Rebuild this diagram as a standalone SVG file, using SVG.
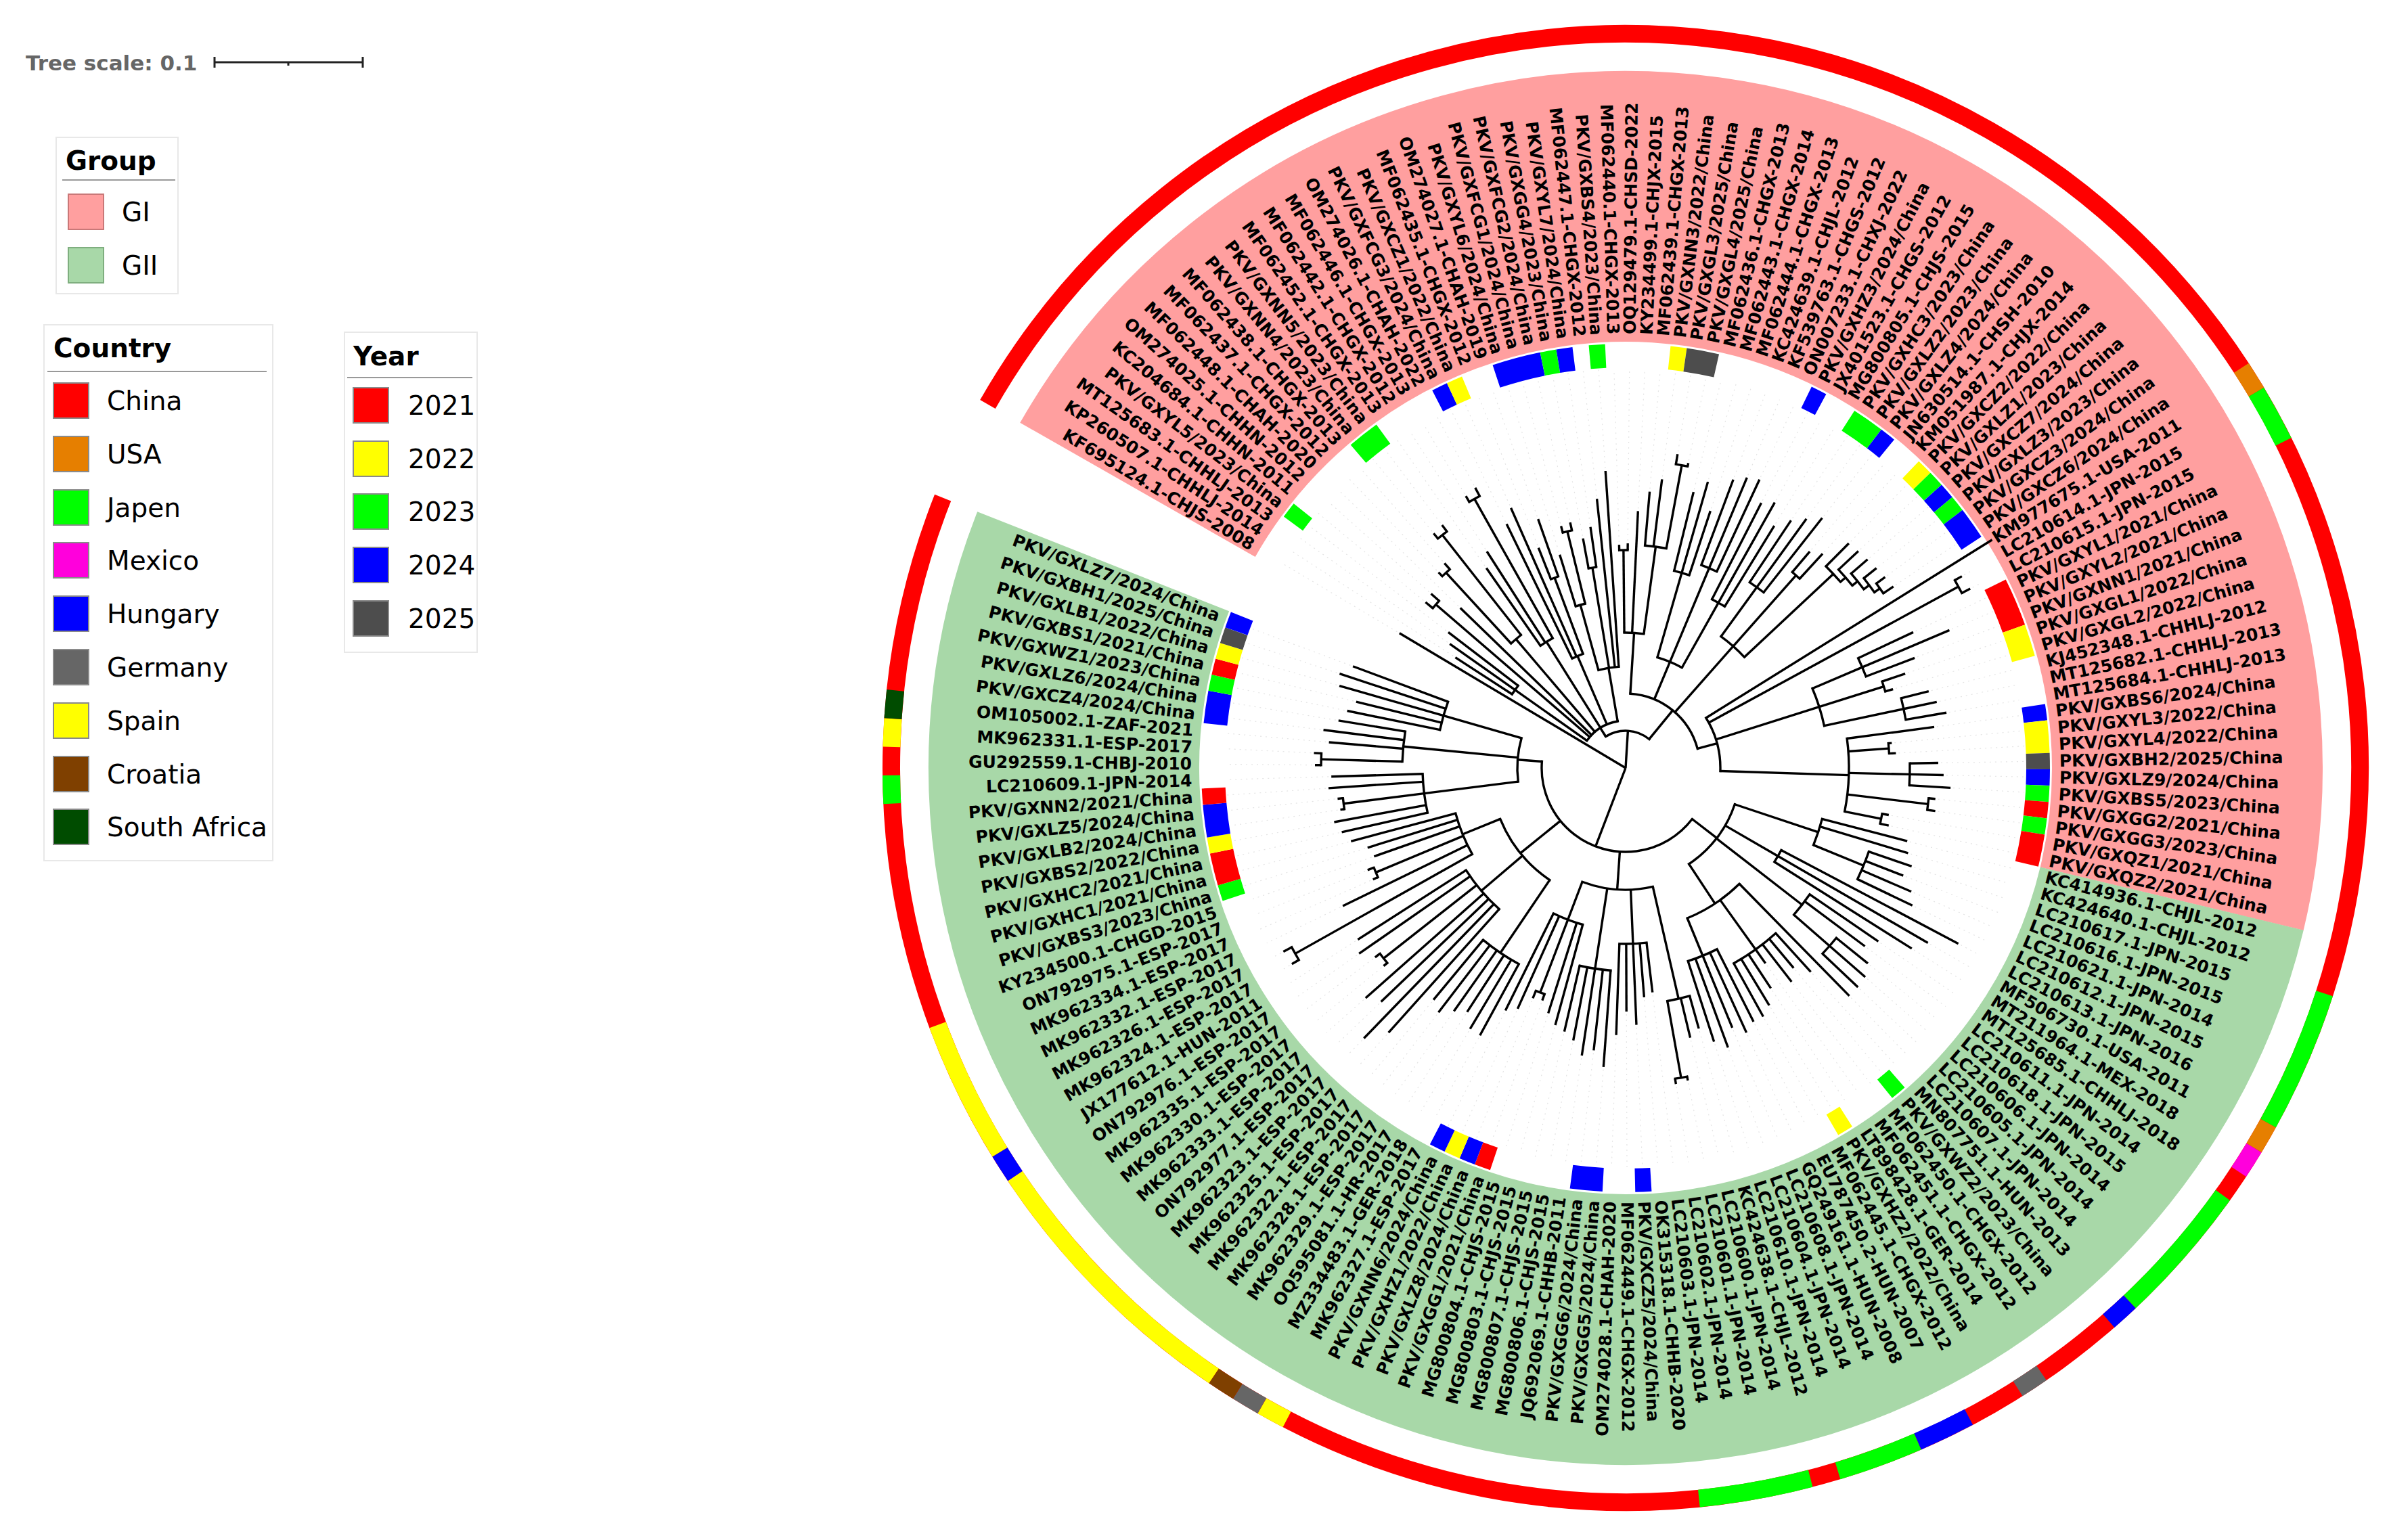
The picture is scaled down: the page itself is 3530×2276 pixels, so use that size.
<svg xmlns="http://www.w3.org/2000/svg" width="3530" height="2276" viewBox="0 0 3530 2276">
<style>
#labels text{font-family:"DejaVu Sans",Verdana,sans-serif;font-weight:bold;font-size:25px;fill:#000;dominant-baseline:central}
#labels .f{text-anchor:end}
#connectors path{fill:none;stroke:#000;stroke-width:3.4}
#connectors circle{fill:none;stroke:#000;stroke-width:3.4;stroke-linecap:square}
#guides path{fill:none;stroke:#e4e4e4;stroke-width:1.2;stroke-dasharray:2 6}
.cr{fill:none;stroke-width:26}
.yr{fill:none;stroke-width:35}
.lt{font-family:"DejaVu Sans",Verdana,sans-serif;font-size:39px;fill:#000}
.lh{font-family:"DejaVu Sans",Verdana,sans-serif;font-size:39px;font-weight:bold;fill:#000}
.box{fill:#fff;stroke:#e8e8e8;stroke-width:2}
.sw{stroke:#8a8a8a;stroke-width:2}
</style>
<rect width="3530" height="2276" fill="#fff"/>
<g id="legend">
<text x="38" y="104" font-family="DejaVu Sans,Verdana,sans-serif" font-weight="bold" font-size="31" fill="#666">Tree scale: 0.1</text>
<path d="M317 92H536M317 84V100M536 84V100M426 92V97" stroke="#222" stroke-width="3" fill="none"/>
<g id="legend-group">
<rect class="box" x="83" y="203" width="180" height="231"/>
<text class="lh" x="97" y="251">Group</text>
<line x1="92" y1="266" x2="259" y2="266" stroke="#999" stroke-width="2"/>
<rect x="101" y="287" width="52" height="52" fill="#FF9F9F" stroke="#c97878" stroke-width="2"/>
<text class="lt" x="180" y="327">GI</text>
<rect x="101" y="366" width="52" height="52" fill="#A8D8A8" stroke="#7fae7f" stroke-width="2"/>
<text class="lt" x="180" y="406">GII</text>
</g>
<g id="legend-country">
<rect class="box" x="65" y="480" width="338" height="792"/>
<text class="lh" x="79" y="528">Country</text>
<line x1="70" y1="549" x2="394" y2="549" stroke="#999" stroke-width="2"/>
<rect class="sw" x="79" y="566" width="52" height="52" fill="#FF0000"/><text class="lt" x="158" y="606">China</text>
<rect class="sw" x="79" y="645" width="52" height="52" fill="#E67F00"/><text class="lt" x="158" y="685">USA</text>
<rect class="sw" x="79" y="724" width="52" height="52" fill="#00FF00"/><text class="lt" x="158" y="764">Japen</text>
<rect class="sw" x="79" y="802" width="52" height="52" fill="#FF00DC"/><text class="lt" x="158" y="842">Mexico</text>
<rect class="sw" x="79" y="881" width="52" height="52" fill="#0000FF"/><text class="lt" x="158" y="921">Hungary</text>
<rect class="sw" x="79" y="960" width="52" height="52" fill="#666666"/><text class="lt" x="158" y="1000">Germany</text>
<rect class="sw" x="79" y="1039" width="52" height="52" fill="#FFFF00"/><text class="lt" x="158" y="1079">Spain</text>
<rect class="sw" x="79" y="1118" width="52" height="52" fill="#7F4000"/><text class="lt" x="158" y="1158">Croatia</text>
<rect class="sw" x="79" y="1196" width="52" height="52" fill="#004C00"/><text class="lt" x="158" y="1236">South Africa</text>
</g>
<g id="legend-year">
<rect class="box" x="509" y="491" width="196" height="473"/>
<text class="lh" x="522" y="540">Year</text>
<line x1="513" y1="558" x2="698" y2="558" stroke="#999" stroke-width="2"/>
<rect class="sw" x="522" y="573" width="52" height="52" fill="#FF0000"/><text class="lt" x="603" y="613">2021</text>
<rect class="sw" x="522" y="652" width="52" height="52" fill="#FFFF00"/><text class="lt" x="603" y="692">2022</text>
<rect class="sw" x="522" y="730" width="52" height="52" fill="#00FF00"/><text class="lt" x="603" y="770">2023</text>
<rect class="sw" x="522" y="809" width="52" height="52" fill="#0000FF"/><text class="lt" x="603" y="849">2024</text>
<rect class="sw" x="522" y="888" width="52" height="52" fill="#4D4D4D"/><text class="lt" x="603" y="928">2025</text>
</g>
</g>
<g id="tree" transform="translate(2402 1135) rotate(210.8)">
<g id="group-ranges">
<circle r="830" fill="none" stroke="#FF9F9F" stroke-width="400" stroke-dasharray="2372.3 9999" transform="rotate(-1.1065)"/>
<circle r="830" fill="none" stroke="#A8D8A8" stroke-width="400" stroke-dasharray="2724.9 9999" transform="rotate(162.6555)"/>
</g>
<g id="country-ring">
<circle r="1085" class="cr" stroke="#FF0000" stroke-dasharray="6663.2 9999" transform="rotate(-1.1065)"/>
<circle r="1085" class="cr" stroke="#E67F00" stroke-dasharray="41.91 9999" transform="rotate(116.1825)"/>
<circle r="1085" class="cr" stroke="#00FF00" stroke-dasharray="83.81 9999" transform="rotate(118.3955)"/>
<circle r="1085" class="cr" stroke="#00FF00" stroke-dasharray="209.54 9999" transform="rotate(167.0815)"/>
<circle r="1085" class="cr" stroke="#E67F00" stroke-dasharray="41.91 9999" transform="rotate(178.1465)"/>
<circle r="1085" class="cr" stroke="#FF00DC" stroke-dasharray="41.91 9999" transform="rotate(180.3595)"/>
<circle r="1085" class="cr" stroke="#00FF00" stroke-dasharray="209.54 9999" transform="rotate(184.7855)"/>
<circle r="1085" class="cr" stroke="#0000FF" stroke-dasharray="41.91 9999" transform="rotate(195.8505)"/>
<circle r="1085" class="cr" stroke="#666666" stroke-dasharray="41.91 9999" transform="rotate(204.7025)"/>
<circle r="1085" class="cr" stroke="#0000FF" stroke-dasharray="83.81 9999" transform="rotate(211.3415)"/>
<circle r="1085" class="cr" stroke="#00FF00" stroke-dasharray="125.72 9999" transform="rotate(215.7675)"/>
<circle r="1085" class="cr" stroke="#00FF00" stroke-dasharray="167.63 9999" transform="rotate(224.6195)"/>
<circle r="1085" class="cr" stroke="#FFFF00" stroke-dasharray="41.91 9999" transform="rotate(266.6665)"/>
<circle r="1085" class="cr" stroke="#666666" stroke-dasharray="41.91 9999" transform="rotate(268.8795)"/>
<circle r="1085" class="cr" stroke="#7F4000" stroke-dasharray="41.91 9999" transform="rotate(271.0925)"/>
<circle r="1085" class="cr" stroke="#FFFF00" stroke-dasharray="419.07 9999" transform="rotate(273.3055)"/>
<circle r="1085" class="cr" stroke="#0000FF" stroke-dasharray="41.91 9999" transform="rotate(295.4355)"/>
<circle r="1085" class="cr" stroke="#FFFF00" stroke-dasharray="209.54 9999" transform="rotate(297.6485)"/>
<circle r="1085" class="cr" stroke="#00FF00" stroke-dasharray="41.91 9999" transform="rotate(326.4175)"/>
<circle r="1085" class="cr" stroke="#FFFF00" stroke-dasharray="41.91 9999" transform="rotate(330.8435)"/>
<circle r="1085" class="cr" stroke="#004C00" stroke-dasharray="41.91 9999" transform="rotate(333.0565)"/>
</g>
<g id="guides">
<path d="M393 0H590"/>
<path d="M304 0H590" transform="rotate(2.213)"/>
<path d="M322 0H590" transform="rotate(4.426)"/>
<path d="M334 0H590" transform="rotate(6.639)"/>
<path d="M388 0H590" transform="rotate(8.852)"/>
<path d="M390 0H590" transform="rotate(11.065)"/>
<path d="M344 0H590" transform="rotate(13.278)"/>
<path d="M404 0H590" transform="rotate(15.491)"/>
<path d="M408 0H590" transform="rotate(17.704)"/>
<path d="M452 0H590" transform="rotate(19.917)"/>
<path d="M454 0H590" transform="rotate(22.13)"/>
<path d="M364 0H590" transform="rotate(24.343)"/>
<path d="M384 0H590" transform="rotate(26.556)"/>
<path d="M470 0H590" transform="rotate(28.769)"/>
<path d="M474 0H590" transform="rotate(30.982)"/>
<path d="M405 0H590" transform="rotate(33.195)"/>
<path d="M424 0H590" transform="rotate(35.408)"/>
<path d="M354 0H590" transform="rotate(37.621)"/>
<path d="M394 0H590" transform="rotate(39.834)"/>
<path d="M334 0H590" transform="rotate(42.047)"/>
<path d="M374 0H590" transform="rotate(44.26)"/>
<path d="M376 0H590" transform="rotate(46.473)"/>
<path d="M349 0H590" transform="rotate(48.686)"/>
<path d="M364 0H590" transform="rotate(50.899)"/>
<path d="M404 0H590" transform="rotate(53.112)"/>
<path d="M444 0H590" transform="rotate(55.325)"/>
<path d="M334 0H590" transform="rotate(57.538)"/>
<path d="M336 0H590" transform="rotate(59.751)"/>
<path d="M384 0H590" transform="rotate(61.964)"/>
<path d="M414 0H590" transform="rotate(64.177)"/>
<path d="M434 0H590" transform="rotate(66.39)"/>
<path d="M474 0H590" transform="rotate(68.603)"/>
<path d="M464 0H590" transform="rotate(70.816)"/>
<path d="M424 0H590" transform="rotate(73.029)"/>
<path d="M444 0H590" transform="rotate(75.242)"/>
<path d="M404 0H590" transform="rotate(77.455)"/>
<path d="M459 0H590" transform="rotate(79.668)"/>
<path d="M469 0H590" transform="rotate(81.881)"/>
<path d="M474 0H590" transform="rotate(84.094)"/>
<path d="M444 0H590" transform="rotate(86.307)"/>
<path d="M454 0H590" transform="rotate(88.52)"/>
<path d="M424 0H590" transform="rotate(90.733)"/>
<path d="M444 0H590" transform="rotate(92.946)"/>
<path d="M459 0H590" transform="rotate(95.159)"/>
<path d="M474 0H590" transform="rotate(97.372)"/>
<path d="M424 0H590" transform="rotate(99.585)"/>
<path d="M434 0H590" transform="rotate(101.798)"/>
<path d="M472 0H590" transform="rotate(104.011)"/>
<path d="M474 0H590" transform="rotate(106.224)"/>
<path d="M476 0H590" transform="rotate(108.437)"/>
<path d="M478 0H590" transform="rotate(110.65)"/>
<path d="M480 0H590" transform="rotate(112.863)"/>
<path d="M482 0H590" transform="rotate(115.076)"/>
<path d="M576 0H590" transform="rotate(119.502)"/>
<path d="M578 0H590" transform="rotate(121.715)"/>
<path d="M474 0H590" transform="rotate(123.928)"/>
<path d="M524 0H590" transform="rotate(126.141)"/>
<path d="M461 0H590" transform="rotate(128.354)"/>
<path d="M440 0H590" transform="rotate(130.567)"/>
<path d="M416 0H590" transform="rotate(132.78)"/>
<path d="M466 0H590" transform="rotate(134.993)"/>
<path d="M474 0H590" transform="rotate(137.206)"/>
<path d="M485 0H590" transform="rotate(139.419)"/>
<path d="M464 0H590" transform="rotate(141.632)"/>
<path d="M399 0H590" transform="rotate(143.845)"/>
<path d="M404 0H590" transform="rotate(146.058)"/>
<path d="M466 0H590" transform="rotate(148.271)"/>
<path d="M474 0H590" transform="rotate(150.484)"/>
<path d="M485 0H590" transform="rotate(152.697)"/>
<path d="M464 0H590" transform="rotate(154.91)"/>
<path d="M466 0H590" transform="rotate(157.123)"/>
<path d="M399 0H590" transform="rotate(159.336)"/>
<path d="M402 0H590" transform="rotate(161.549)"/>
<path d="M434 0H590" transform="rotate(163.762)"/>
<path d="M440 0H590" transform="rotate(165.975)"/>
<path d="M451 0H590" transform="rotate(168.188)"/>
<path d="M444 0H590" transform="rotate(170.401)"/>
<path d="M464 0H590" transform="rotate(172.614)"/>
<path d="M474 0H590" transform="rotate(174.827)"/>
<path d="M560 0H590" transform="rotate(177.04)"/>
<path d="M520 0H590" transform="rotate(179.253)"/>
<path d="M504 0H590" transform="rotate(181.466)"/>
<path d="M457 0H590" transform="rotate(183.679)"/>
<path d="M445 0H590" transform="rotate(185.892)"/>
<path d="M464 0H590" transform="rotate(188.105)"/>
<path d="M474 0H590" transform="rotate(190.318)"/>
<path d="M476 0H590" transform="rotate(192.531)"/>
<path d="M476 0H590" transform="rotate(194.744)"/>
<path d="M411 0H590" transform="rotate(196.957)"/>
<path d="M390 0H590" transform="rotate(199.17)"/>
<path d="M404 0H590" transform="rotate(201.383)"/>
<path d="M359 0H590" transform="rotate(203.596)"/>
<path d="M394 0H590" transform="rotate(205.809)"/>
<path d="M414 0H590" transform="rotate(208.022)"/>
<path d="M424 0H590" transform="rotate(210.235)"/>
<path d="M424 0H590" transform="rotate(212.448)"/>
<path d="M434 0H590" transform="rotate(214.661)"/>
<path d="M419 0H590" transform="rotate(216.874)"/>
<path d="M444 0H590" transform="rotate(219.087)"/>
<path d="M429 0H590" transform="rotate(221.3)"/>
<path d="M404 0H590" transform="rotate(223.513)"/>
<path d="M414 0H590" transform="rotate(225.726)"/>
<path d="M475 0H590" transform="rotate(227.939)"/>
<path d="M477 0H590" transform="rotate(230.152)"/>
<path d="M338 0H590" transform="rotate(232.365)"/>
<path d="M344 0H590" transform="rotate(234.578)"/>
<path d="M384 0H590" transform="rotate(236.791)"/>
<path d="M364 0H590" transform="rotate(239.004)"/>
<path d="M399 0H590" transform="rotate(241.217)"/>
<path d="M447 0H590" transform="rotate(243.43)"/>
<path d="M424 0H590" transform="rotate(245.643)"/>
<path d="M434 0H590" transform="rotate(247.856)"/>
<path d="M414 0H590" transform="rotate(250.069)"/>
<path d="M404 0H590" transform="rotate(252.282)"/>
<path d="M398 0H590" transform="rotate(254.495)"/>
<path d="M384 0H590" transform="rotate(256.708)"/>
<path d="M369 0H590" transform="rotate(258.921)"/>
<path d="M371 0H590" transform="rotate(261.134)"/>
<path d="M394 0H590" transform="rotate(263.347)"/>
<path d="M404 0H590" transform="rotate(265.56)"/>
<path d="M454 0H590" transform="rotate(267.773)"/>
<path d="M453 0H590" transform="rotate(269.986)"/>
<path d="M434 0H590" transform="rotate(272.199)"/>
<path d="M444 0H590" transform="rotate(274.412)"/>
<path d="M459 0H590" transform="rotate(276.625)"/>
<path d="M449 0H590" transform="rotate(278.838)"/>
<path d="M529 0H590" transform="rotate(281.051)"/>
<path d="M560 0H590" transform="rotate(283.264)"/>
<path d="M504 0H590" transform="rotate(285.477)"/>
<path d="M517 0H590" transform="rotate(287.69)"/>
<path d="M466 0H590" transform="rotate(289.903)"/>
<path d="M468 0H590" transform="rotate(292.116)"/>
<path d="M484 0H590" transform="rotate(294.329)"/>
<path d="M474 0H590" transform="rotate(296.542)"/>
<path d="M576 0H590" transform="rotate(298.755)"/>
<path d="M578 0H590" transform="rotate(300.968)"/>
<path d="M469 0H590" transform="rotate(303.181)"/>
<path d="M412 0H590" transform="rotate(305.394)"/>
<path d="M414 0H590" transform="rotate(307.607)"/>
<path d="M398 0H590" transform="rotate(309.82)"/>
<path d="M403 0H590" transform="rotate(312.033)"/>
<path d="M424 0H590" transform="rotate(314.246)"/>
<path d="M434 0H590" transform="rotate(316.459)"/>
<path d="M442 0H590" transform="rotate(318.672)"/>
<path d="M430 0H590" transform="rotate(320.885)"/>
<path d="M432 0H590" transform="rotate(323.098)"/>
<path d="M444 0H590" transform="rotate(325.311)"/>
<path d="M439 0H590" transform="rotate(327.524)"/>
<path d="M463 0H590" transform="rotate(329.737)"/>
<path d="M465 0H590" transform="rotate(331.95)"/>
<path d="M444 0H590" transform="rotate(334.163)"/>
<path d="M454 0H590" transform="rotate(336.376)"/>
<path d="M434 0H590" transform="rotate(338.589)"/>
<path d="M424 0H590" transform="rotate(340.802)"/>
<path d="M414 0H590" transform="rotate(343.015)"/>
<path d="M444 0H590" transform="rotate(345.228)"/>
<path d="M449 0H590" transform="rotate(347.441)"/>
<path d="M434 0H590" transform="rotate(349.654)"/>
</g>
<g id="year-ring">
<circle r="609.5" class="yr" stroke="#00FF00" stroke-dasharray="23.54 9999" transform="rotate(5.5325)"/>
<circle r="609.5" class="yr" stroke="#00FF00" stroke-dasharray="47.08 9999" transform="rotate(18.8105)"/>
<circle r="609.5" class="yr" stroke="#0000FF" stroke-dasharray="23.54 9999" transform="rotate(32.0885)"/>
<circle r="609.5" class="yr" stroke="#FFFF00" stroke-dasharray="23.54 9999" transform="rotate(34.3015)"/>
<circle r="609.5" class="yr" stroke="#0000FF" stroke-dasharray="70.62 9999" transform="rotate(40.9405)"/>
<circle r="609.5" class="yr" stroke="#00FF00" stroke-dasharray="23.54 9999" transform="rotate(47.5795)"/>
<circle r="609.5" class="yr" stroke="#0000FF" stroke-dasharray="23.54 9999" transform="rotate(49.7925)"/>
<circle r="609.5" class="yr" stroke="#00FF00" stroke-dasharray="23.54 9999" transform="rotate(54.2185)"/>
<circle r="609.5" class="yr" stroke="#FFFF00" stroke-dasharray="23.54 9999" transform="rotate(65.2835)"/>
<circle r="609.5" class="yr" stroke="#4D4D4D" stroke-dasharray="47.08 9999" transform="rotate(67.4965)"/>
<circle r="609.5" class="yr" stroke="#0000FF" stroke-dasharray="23.54 9999" transform="rotate(85.2005)"/>
<circle r="609.5" class="yr" stroke="#00FF00" stroke-dasharray="47.08 9999" transform="rotate(91.8395)"/>
<circle r="609.5" class="yr" stroke="#0000FF" stroke-dasharray="23.54 9999" transform="rotate(96.2655)"/>
<circle r="609.5" class="yr" stroke="#FFFF00" stroke-dasharray="23.54 9999" transform="rotate(102.9045)"/>
<circle r="609.5" class="yr" stroke="#00FF00" stroke-dasharray="23.54 9999" transform="rotate(105.1175)"/>
<circle r="609.5" class="yr" stroke="#0000FF" stroke-dasharray="23.54 9999" transform="rotate(107.3305)"/>
<circle r="609.5" class="yr" stroke="#00FF00" stroke-dasharray="23.54 9999" transform="rotate(109.5435)"/>
<circle r="609.5" class="yr" stroke="#0000FF" stroke-dasharray="47.08 9999" transform="rotate(111.7565)"/>
<circle r="609.5" class="yr" stroke="#FF0000" stroke-dasharray="70.62 9999" transform="rotate(122.8215)"/>
<circle r="609.5" class="yr" stroke="#FFFF00" stroke-dasharray="47.08 9999" transform="rotate(129.4605)"/>
<circle r="609.5" class="yr" stroke="#0000FF" stroke-dasharray="23.54 9999" transform="rotate(140.5255)"/>
<circle r="609.5" class="yr" stroke="#FFFF00" stroke-dasharray="47.08 9999" transform="rotate(142.7385)"/>
<circle r="609.5" class="yr" stroke="#4D4D4D" stroke-dasharray="23.54 9999" transform="rotate(147.1645)"/>
<circle r="609.5" class="yr" stroke="#0000FF" stroke-dasharray="23.54 9999" transform="rotate(149.3775)"/>
<circle r="609.5" class="yr" stroke="#00FF00" stroke-dasharray="23.54 9999" transform="rotate(151.5905)"/>
<circle r="609.5" class="yr" stroke="#FF0000" stroke-dasharray="23.54 9999" transform="rotate(153.8035)"/>
<circle r="609.5" class="yr" stroke="#00FF00" stroke-dasharray="23.54 9999" transform="rotate(156.0165)"/>
<circle r="609.5" class="yr" stroke="#FF0000" stroke-dasharray="47.08 9999" transform="rotate(158.2295)"/>
<circle r="609.5" class="yr" stroke="#00FF00" stroke-dasharray="23.54 9999" transform="rotate(198.0635)"/>
<circle r="609.5" class="yr" stroke="#FFFF00" stroke-dasharray="23.54 9999" transform="rotate(206.9155)"/>
<circle r="609.5" class="yr" stroke="#0000FF" stroke-dasharray="23.54 9999" transform="rotate(235.6845)"/>
<circle r="609.5" class="yr" stroke="#0000FF" stroke-dasharray="47.08 9999" transform="rotate(242.3235)"/>
<circle r="609.5" class="yr" stroke="#FF0000" stroke-dasharray="23.54 9999" transform="rotate(257.8145)"/>
<circle r="609.5" class="yr" stroke="#0000FF" stroke-dasharray="23.54 9999" transform="rotate(260.0275)"/>
<circle r="609.5" class="yr" stroke="#FFFF00" stroke-dasharray="23.54 9999" transform="rotate(262.2405)"/>
<circle r="609.5" class="yr" stroke="#0000FF" stroke-dasharray="23.54 9999" transform="rotate(264.4535)"/>
<circle r="609.5" class="yr" stroke="#00FF00" stroke-dasharray="23.54 9999" transform="rotate(310.9265)"/>
<circle r="609.5" class="yr" stroke="#FF0000" stroke-dasharray="47.08 9999" transform="rotate(313.1395)"/>
<circle r="609.5" class="yr" stroke="#FFFF00" stroke-dasharray="23.54 9999" transform="rotate(317.5655)"/>
<circle r="609.5" class="yr" stroke="#0000FF" stroke-dasharray="47.08 9999" transform="rotate(319.7785)"/>
<circle r="609.5" class="yr" stroke="#FF0000" stroke-dasharray="23.54 9999" transform="rotate(324.2045)"/>
<circle r="609.5" class="yr" stroke="#0000FF" stroke-dasharray="47.08 9999" transform="rotate(335.2695)"/>
<circle r="609.5" class="yr" stroke="#00FF00" stroke-dasharray="23.54 9999" transform="rotate(339.6955)"/>
<circle r="609.5" class="yr" stroke="#FF0000" stroke-dasharray="23.54 9999" transform="rotate(341.9085)"/>
<circle r="609.5" class="yr" stroke="#FFFF00" stroke-dasharray="23.54 9999" transform="rotate(344.1215)"/>
<circle r="609.5" class="yr" stroke="#4D4D4D" stroke-dasharray="23.54 9999" transform="rotate(346.3345)"/>
<circle r="609.5" class="yr" stroke="#0000FF" stroke-dasharray="23.54 9999" transform="rotate(348.5475)"/>
</g>
<g id="connectors">
<path d="M0 0H55" transform="rotate(62.7248)"/>
<path d="M0 0H124" transform="rotate(260.1659)"/>
<path d="M55 0H70" transform="rotate(26.971)"/>
<path d="M55 0H110" transform="rotate(98.4786)"/>
<path d="M70 0H200" transform="rotate(4.426)"/>
<path d="M70 0H370" transform="rotate(9.9585)"/>
<path d="M70 0H250" transform="rotate(18.8105)"/>
<path d="M250 0H392" transform="rotate(16.5975)"/>
<path d="M250 0H438" transform="rotate(21.0235)"/>
<path d="M70 0H220" transform="rotate(27.109)"/>
<path d="M220 0H456" transform="rotate(29.8755)"/>
<path d="M70 0H180" transform="rotate(35.961)"/>
<path d="M180 0H300" transform="rotate(38.7275)"/>
<path d="M70 0H150" transform="rotate(49.5159)"/>
<path d="M150 0H250" transform="rotate(43.7068)"/>
<path d="M250 0H360" transform="rotate(45.3665)"/>
<path d="M150 0H300" transform="rotate(49.7925)"/>
<path d="M110 0H200" transform="rotate(62.7939)"/>
<path d="M200 0H322" transform="rotate(58.6445)"/>
<path d="M200 0H330" transform="rotate(66.9433)"/>
<path d="M330 0H455" transform="rotate(69.7095)"/>
<path d="M110 0H170" transform="rotate(81.881)"/>
<path d="M170 0H300" transform="rotate(75.242)"/>
<path d="M170 0H320" transform="rotate(81.881)"/>
<path d="M170 0H280" transform="rotate(88.52)"/>
<path d="M110 0H240" transform="rotate(100.657)"/>
<path d="M240 0H330" transform="rotate(95.159)"/>
<path d="M240 0H380" transform="rotate(100.6915)"/>
<path d="M240 0H420" transform="rotate(106.1549)"/>
<path d="M420 0H430" transform="rotate(108.2987)"/>
<path d="M430 0H440" transform="rotate(110.3734)"/>
<path d="M440 0H450" transform="rotate(112.3098)"/>
<path d="M450 0H460" transform="rotate(113.9695)"/>
<path d="M110 0H140" transform="rotate(134.1632)"/>
<path d="M140 0H560" transform="rotate(120.6085)"/>
<path d="M140 0H300" transform="rotate(131.6735)"/>
<path d="M300 0H380" transform="rotate(126.141)"/>
<path d="M300 0H400" transform="rotate(131.6735)"/>
<path d="M300 0H420" transform="rotate(137.206)"/>
<path d="M140 0H330" transform="rotate(151.0373)"/>
<path d="M330 0H390" transform="rotate(144.9515)"/>
<path d="M330 0H420" transform="rotate(150.484)"/>
<path d="M330 0H450" transform="rotate(156.0165)"/>
<path d="M330 0H385" transform="rotate(160.4425)"/>
<path d="M124 0H170" transform="rotate(186.7219)"/>
<path d="M170 0H300" transform="rotate(167.6348)"/>
<path d="M300 0H380" transform="rotate(171.5075)"/>
<path d="M170 0H260" transform="rotate(179.253)"/>
<path d="M170 0H330" transform="rotate(186.9985)"/>
<path d="M330 0H400" transform="rotate(190.318)"/>
<path d="M170 0H240" transform="rotate(205.809)"/>
<path d="M240 0H330" transform="rotate(203.596)"/>
<path d="M240 0H300" transform="rotate(216.874)"/>
<path d="M124 0H180" transform="rotate(243.1534)"/>
<path d="M180 0H350" transform="rotate(226.2793)"/>
<path d="M350 0H465" transform="rotate(229.0455)"/>
<path d="M180 0H260" transform="rotate(236.791)"/>
<path d="M180 0H300" transform="rotate(247.856)"/>
<path d="M180 0H240" transform="rotate(260.0275)"/>
<path d="M240 0H355" transform="rotate(260.0275)"/>
<path d="M124 0H200" transform="rotate(290.1797)"/>
<path d="M200 0H330" transform="rotate(273.3055)"/>
<path d="M200 0H280" transform="rotate(288.7965)"/>
<path d="M280 0H455" transform="rotate(291.0095)"/>
<path d="M200 0H260" transform="rotate(307.0538)"/>
<path d="M260 0H560" transform="rotate(299.8615)"/>
<path d="M260 0H400" transform="rotate(306.5005)"/>
<path d="M124 0H160" transform="rotate(333.6098)"/>
<path d="M160 0H300" transform="rotate(321.9915)"/>
<path d="M300 0H420" transform="rotate(321.9915)"/>
<path d="M160 0H330" transform="rotate(334.7163)"/>
<path d="M330 0H450" transform="rotate(330.8435)"/>
<path d="M160 0H280" transform="rotate(345.228)"/>
<circle r="200" stroke-dasharray="15.45 9999" transform="rotate(2.213)"/>
<circle r="370" stroke-dasharray="14.29 9999" transform="rotate(8.852)"/>
<circle r="392" stroke-dasharray="15.14 9999" transform="rotate(15.491)"/>
<circle r="438" stroke-dasharray="16.92 9999" transform="rotate(19.917)"/>
<circle r="250" stroke-dasharray="19.31 9999" transform="rotate(16.5975)"/>
<circle r="456" stroke-dasharray="17.61 9999" transform="rotate(28.769)"/>
<circle r="220" stroke-dasharray="21.24 9999" transform="rotate(24.343)"/>
<circle r="300" stroke-dasharray="11.59 9999" transform="rotate(37.621)"/>
<circle r="180" stroke-dasharray="17.38 9999" transform="rotate(33.195)"/>
<circle r="360" stroke-dasharray="13.90 9999" transform="rotate(44.26)"/>
<circle r="250" stroke-dasharray="14.48 9999" transform="rotate(42.047)"/>
<circle r="300" stroke-dasharray="11.59 9999" transform="rotate(48.686)"/>
<circle r="150" stroke-dasharray="30.42 9999" transform="rotate(43.7068)"/>
<circle r="70" stroke-dasharray="55.09 9999" transform="rotate(4.426)"/>
<circle r="322" stroke-dasharray="12.44 9999" transform="rotate(57.538)"/>
<circle r="455" stroke-dasharray="17.57 9999" transform="rotate(68.603)"/>
<circle r="330" stroke-dasharray="31.86 9999" transform="rotate(64.177)"/>
<circle r="200" stroke-dasharray="28.97 9999" transform="rotate(58.6445)"/>
<circle r="300" stroke-dasharray="23.17 9999" transform="rotate(73.029)"/>
<circle r="320" stroke-dasharray="24.72 9999" transform="rotate(79.668)"/>
<circle r="280" stroke-dasharray="21.63 9999" transform="rotate(86.307)"/>
<circle r="170" stroke-dasharray="39.40 9999" transform="rotate(75.242)"/>
<circle r="330" stroke-dasharray="25.49 9999" transform="rotate(92.946)"/>
<circle r="380" stroke-dasharray="14.68 9999" transform="rotate(99.585)"/>
<circle r="460" stroke-dasharray="17.77 9999" transform="rotate(112.863)"/>
<circle r="450" stroke-dasharray="26.07 9999" transform="rotate(110.65)"/>
<circle r="440" stroke-dasharray="29.74 9999" transform="rotate(108.437)"/>
<circle r="430" stroke-dasharray="31.14 9999" transform="rotate(106.224)"/>
<circle r="420" stroke-dasharray="31.43 9999" transform="rotate(104.011)"/>
<circle r="240" stroke-dasharray="46.06 9999" transform="rotate(95.159)"/>
<circle r="560" stroke-dasharray="21.63 9999" transform="rotate(119.502)"/>
<circle r="380" stroke-dasharray="29.35 9999" transform="rotate(123.928)"/>
<circle r="400" stroke-dasharray="15.45 9999" transform="rotate(130.567)"/>
<circle r="420" stroke-dasharray="32.44 9999" transform="rotate(134.993)"/>
<circle r="300" stroke-dasharray="57.94 9999" transform="rotate(126.141)"/>
<circle r="390" stroke-dasharray="15.06 9999" transform="rotate(143.845)"/>
<circle r="420" stroke-dasharray="32.44 9999" transform="rotate(148.271)"/>
<circle r="450" stroke-dasharray="17.38 9999" transform="rotate(154.91)"/>
<circle r="385" stroke-dasharray="14.87 9999" transform="rotate(159.336)"/>
<circle r="330" stroke-dasharray="108.34 9999" transform="rotate(141.632)"/>
<circle r="140" stroke-dasharray="82.46 9999" transform="rotate(117.289)"/>
<circle r="110" stroke-dasharray="137.02 9999" transform="rotate(62.7939)"/>
<circle r="55" stroke-dasharray="68.64 9999" transform="rotate(26.971)"/>
<circle r="380" stroke-dasharray="44.03 9999" transform="rotate(168.188)"/>
<circle r="300" stroke-dasharray="40.56 9999" transform="rotate(163.762)"/>
<circle r="260" stroke-dasharray="20.08 9999" transform="rotate(177.04)"/>
<circle r="400" stroke-dasharray="30.90 9999" transform="rotate(188.105)"/>
<circle r="330" stroke-dasharray="38.24 9999" transform="rotate(183.679)"/>
<circle r="330" stroke-dasharray="76.48 9999" transform="rotate(196.957)"/>
<circle r="300" stroke-dasharray="46.35 9999" transform="rotate(212.448)"/>
<circle r="240" stroke-dasharray="92.70 9999" transform="rotate(194.744)"/>
<circle r="170" stroke-dasharray="113.27 9999" transform="rotate(167.6348)"/>
<circle r="465" stroke-dasharray="17.96 9999" transform="rotate(227.939)"/>
<circle r="350" stroke-dasharray="33.80 9999" transform="rotate(223.513)"/>
<circle r="260" stroke-dasharray="40.17 9999" transform="rotate(232.365)"/>
<circle r="300" stroke-dasharray="46.35 9999" transform="rotate(243.43)"/>
<circle r="355" stroke-dasharray="13.71 9999" transform="rotate(258.921)"/>
<circle r="240" stroke-dasharray="46.35 9999" transform="rotate(254.495)"/>
<circle r="180" stroke-dasharray="106.02 9999" transform="rotate(226.2793)"/>
<circle r="330" stroke-dasharray="63.73 9999" transform="rotate(267.773)"/>
<circle r="455" stroke-dasharray="17.57 9999" transform="rotate(289.903)"/>
<circle r="280" stroke-dasharray="75.70 9999" transform="rotate(281.051)"/>
<circle r="560" stroke-dasharray="21.63 9999" transform="rotate(298.755)"/>
<circle r="400" stroke-dasharray="15.45 9999" transform="rotate(305.394)"/>
<circle r="260" stroke-dasharray="65.27 9999" transform="rotate(299.8615)"/>
<circle r="200" stroke-dasharray="117.80 9999" transform="rotate(273.3055)"/>
<circle r="420" stroke-dasharray="16.22 9999" transform="rotate(320.885)"/>
<circle r="300" stroke-dasharray="57.94 9999" transform="rotate(316.459)"/>
<circle r="450" stroke-dasharray="17.38 9999" transform="rotate(329.737)"/>
<circle r="330" stroke-dasharray="44.61 9999" transform="rotate(330.8435)"/>
<circle r="280" stroke-dasharray="43.26 9999" transform="rotate(340.802)"/>
<circle r="160" stroke-dasharray="64.89 9999" transform="rotate(321.9915)"/>
<circle r="124" stroke-dasharray="317.90 9999" transform="rotate(186.7219)"/>
<path d="M0 0H389"/>
<path d="M200 0H300" transform="rotate(2.213)"/>
<path d="M200 0H318" transform="rotate(4.426)"/>
<path d="M200 0H330" transform="rotate(6.639)"/>
<path d="M370 0H384" transform="rotate(8.852)"/>
<path d="M370 0H386" transform="rotate(11.065)"/>
<path d="M70 0H340" transform="rotate(13.278)"/>
<path d="M392 0H400" transform="rotate(15.491)"/>
<path d="M392 0H404" transform="rotate(17.704)"/>
<path d="M438 0H448" transform="rotate(19.917)"/>
<path d="M438 0H450" transform="rotate(22.13)"/>
<path d="M220 0H360" transform="rotate(24.343)"/>
<path d="M220 0H380" transform="rotate(26.556)"/>
<path d="M456 0H466" transform="rotate(28.769)"/>
<path d="M456 0H470" transform="rotate(30.982)"/>
<path d="M180 0H401" transform="rotate(33.195)"/>
<path d="M180 0H420" transform="rotate(35.408)"/>
<path d="M300 0H350" transform="rotate(37.621)"/>
<path d="M300 0H390" transform="rotate(39.834)"/>
<path d="M250 0H330" transform="rotate(42.047)"/>
<path d="M360 0H370" transform="rotate(44.26)"/>
<path d="M360 0H372" transform="rotate(46.473)"/>
<path d="M300 0H345" transform="rotate(48.686)"/>
<path d="M300 0H360" transform="rotate(50.899)"/>
<path d="M150 0H400" transform="rotate(53.112)"/>
<path d="M150 0H440" transform="rotate(55.325)"/>
<path d="M322 0H330" transform="rotate(57.538)"/>
<path d="M322 0H332" transform="rotate(59.751)"/>
<path d="M200 0H380" transform="rotate(61.964)"/>
<path d="M330 0H410" transform="rotate(64.177)"/>
<path d="M330 0H430" transform="rotate(66.39)"/>
<path d="M455 0H470" transform="rotate(68.603)"/>
<path d="M455 0H460" transform="rotate(70.816)"/>
<path d="M300 0H420" transform="rotate(73.029)"/>
<path d="M300 0H440" transform="rotate(75.242)"/>
<path d="M300 0H400" transform="rotate(77.455)"/>
<path d="M320 0H455" transform="rotate(79.668)"/>
<path d="M320 0H465" transform="rotate(81.881)"/>
<path d="M320 0H470" transform="rotate(84.094)"/>
<path d="M280 0H440" transform="rotate(86.307)"/>
<path d="M280 0H450" transform="rotate(88.52)"/>
<path d="M280 0H420" transform="rotate(90.733)"/>
<path d="M330 0H440" transform="rotate(92.946)"/>
<path d="M330 0H455" transform="rotate(95.159)"/>
<path d="M330 0H470" transform="rotate(97.372)"/>
<path d="M380 0H420" transform="rotate(99.585)"/>
<path d="M380 0H430" transform="rotate(101.798)"/>
<path d="M420 0H468" transform="rotate(104.011)"/>
<path d="M430 0H470" transform="rotate(106.224)"/>
<path d="M440 0H472" transform="rotate(108.437)"/>
<path d="M450 0H474" transform="rotate(110.65)"/>
<path d="M460 0H476" transform="rotate(112.863)"/>
<path d="M460 0H478" transform="rotate(115.076)"/>
<path d="M140 0H638" transform="rotate(117.289)"/>
<path d="M560 0H572" transform="rotate(119.502)"/>
<path d="M560 0H574" transform="rotate(121.715)"/>
<path d="M380 0H470" transform="rotate(123.928)"/>
<path d="M380 0H520" transform="rotate(126.141)"/>
<path d="M380 0H457" transform="rotate(128.354)"/>
<path d="M400 0H436" transform="rotate(130.567)"/>
<path d="M400 0H412" transform="rotate(132.78)"/>
<path d="M420 0H462" transform="rotate(134.993)"/>
<path d="M420 0H470" transform="rotate(137.206)"/>
<path d="M420 0H481" transform="rotate(139.419)"/>
<path d="M330 0H460" transform="rotate(141.632)"/>
<path d="M390 0H395" transform="rotate(143.845)"/>
<path d="M390 0H400" transform="rotate(146.058)"/>
<path d="M420 0H462" transform="rotate(148.271)"/>
<path d="M420 0H470" transform="rotate(150.484)"/>
<path d="M420 0H481" transform="rotate(152.697)"/>
<path d="M450 0H460" transform="rotate(154.91)"/>
<path d="M450 0H462" transform="rotate(157.123)"/>
<path d="M385 0H395" transform="rotate(159.336)"/>
<path d="M385 0H398" transform="rotate(161.549)"/>
<path d="M300 0H430" transform="rotate(163.762)"/>
<path d="M300 0H436" transform="rotate(165.975)"/>
<path d="M380 0H447" transform="rotate(168.188)"/>
<path d="M380 0H440" transform="rotate(170.401)"/>
<path d="M380 0H460" transform="rotate(172.614)"/>
<path d="M380 0H470" transform="rotate(174.827)"/>
<path d="M260 0H556" transform="rotate(177.04)"/>
<path d="M260 0H516" transform="rotate(179.253)"/>
<path d="M260 0H500" transform="rotate(181.466)"/>
<path d="M330 0H453" transform="rotate(183.679)"/>
<path d="M330 0H441" transform="rotate(185.892)"/>
<path d="M400 0H460" transform="rotate(188.105)"/>
<path d="M400 0H470" transform="rotate(190.318)"/>
<path d="M400 0H472" transform="rotate(192.531)"/>
<path d="M240 0H472" transform="rotate(194.744)"/>
<path d="M330 0H407" transform="rotate(196.957)"/>
<path d="M330 0H386" transform="rotate(199.17)"/>
<path d="M330 0H400" transform="rotate(201.383)"/>
<path d="M330 0H355" transform="rotate(203.596)"/>
<path d="M330 0H390" transform="rotate(205.809)"/>
<path d="M330 0H410" transform="rotate(208.022)"/>
<path d="M330 0H420" transform="rotate(210.235)"/>
<path d="M300 0H420" transform="rotate(212.448)"/>
<path d="M300 0H430" transform="rotate(214.661)"/>
<path d="M300 0H415" transform="rotate(216.874)"/>
<path d="M300 0H440" transform="rotate(219.087)"/>
<path d="M300 0H425" transform="rotate(221.3)"/>
<path d="M350 0H400" transform="rotate(223.513)"/>
<path d="M350 0H410" transform="rotate(225.726)"/>
<path d="M465 0H471" transform="rotate(227.939)"/>
<path d="M465 0H473" transform="rotate(230.152)"/>
<path d="M260 0H334" transform="rotate(232.365)"/>
<path d="M260 0H340" transform="rotate(234.578)"/>
<path d="M260 0H380" transform="rotate(236.791)"/>
<path d="M260 0H360" transform="rotate(239.004)"/>
<path d="M260 0H395" transform="rotate(241.217)"/>
<path d="M300 0H443" transform="rotate(243.43)"/>
<path d="M300 0H420" transform="rotate(245.643)"/>
<path d="M300 0H430" transform="rotate(247.856)"/>
<path d="M300 0H410" transform="rotate(250.069)"/>
<path d="M300 0H400" transform="rotate(252.282)"/>
<path d="M240 0H394" transform="rotate(254.495)"/>
<path d="M240 0H380" transform="rotate(256.708)"/>
<path d="M355 0H365" transform="rotate(258.921)"/>
<path d="M355 0H367" transform="rotate(261.134)"/>
<path d="M240 0H390" transform="rotate(263.347)"/>
<path d="M240 0H400" transform="rotate(265.56)"/>
<path d="M330 0H450" transform="rotate(267.773)"/>
<path d="M330 0H449" transform="rotate(269.986)"/>
<path d="M330 0H430" transform="rotate(272.199)"/>
<path d="M330 0H440" transform="rotate(274.412)"/>
<path d="M330 0H455" transform="rotate(276.625)"/>
<path d="M330 0H445" transform="rotate(278.838)"/>
<path d="M280 0H525" transform="rotate(281.051)"/>
<path d="M280 0H556" transform="rotate(283.264)"/>
<path d="M280 0H500" transform="rotate(285.477)"/>
<path d="M280 0H513" transform="rotate(287.69)"/>
<path d="M455 0H462" transform="rotate(289.903)"/>
<path d="M455 0H464" transform="rotate(292.116)"/>
<path d="M280 0H480" transform="rotate(294.329)"/>
<path d="M280 0H470" transform="rotate(296.542)"/>
<path d="M560 0H572" transform="rotate(298.755)"/>
<path d="M560 0H574" transform="rotate(300.968)"/>
<path d="M260 0H465" transform="rotate(303.181)"/>
<path d="M400 0H408" transform="rotate(305.394)"/>
<path d="M400 0H410" transform="rotate(307.607)"/>
<path d="M260 0H394" transform="rotate(309.82)"/>
<path d="M260 0H399" transform="rotate(312.033)"/>
<path d="M260 0H420" transform="rotate(314.246)"/>
<path d="M300 0H430" transform="rotate(316.459)"/>
<path d="M300 0H438" transform="rotate(318.672)"/>
<path d="M420 0H426" transform="rotate(320.885)"/>
<path d="M420 0H428" transform="rotate(323.098)"/>
<path d="M300 0H440" transform="rotate(325.311)"/>
<path d="M300 0H435" transform="rotate(327.524)"/>
<path d="M450 0H459" transform="rotate(329.737)"/>
<path d="M450 0H461" transform="rotate(331.95)"/>
<path d="M330 0H440" transform="rotate(334.163)"/>
<path d="M330 0H450" transform="rotate(336.376)"/>
<path d="M330 0H430" transform="rotate(338.589)"/>
<path d="M280 0H420" transform="rotate(340.802)"/>
<path d="M280 0H410" transform="rotate(343.015)"/>
<path d="M280 0H440" transform="rotate(345.228)"/>
<path d="M280 0H445" transform="rotate(347.441)"/>
<path d="M280 0H430" transform="rotate(349.654)"/>
</g>
<g id="labels">
<g id="n0"><text class="f" x="641" transform="rotate(180 641 0)">KF695124.1-CHJS-2008</text></g>
<g id="n1" transform="rotate(2.213)"><text class="f" x="641" transform="rotate(180 641 0)">KP260507.1-CHHLJ-2014</text></g>
<g id="n2" transform="rotate(4.426)"><text class="f" x="641" transform="rotate(180 641 0)">MT125683.1-CHHLJ-2013</text></g>
<g id="n3" transform="rotate(6.639)"><text class="f" x="641" transform="rotate(180 641 0)">PKV/GXYL5/2023/China</text></g>
<g id="n4" transform="rotate(8.852)"><text class="f" x="641" transform="rotate(180 641 0)">KC204684.1-CHHN-2011</text></g>
<g id="n5" transform="rotate(11.065)"><text class="f" x="641" transform="rotate(180 641 0)">OM274025.1-CHHN-2012</text></g>
<g id="n6" transform="rotate(13.278)"><text class="f" x="641" transform="rotate(180 641 0)">MF062448.1-CHAH-2020</text></g>
<g id="n7" transform="rotate(15.491)"><text class="f" x="641" transform="rotate(180 641 0)">MF062437.1-CHGX-2012</text></g>
<g id="n8" transform="rotate(17.704)"><text class="f" x="641" transform="rotate(180 641 0)">MF062438.1-CHGX-2013</text></g>
<g id="n9" transform="rotate(19.917)"><text class="f" x="641" transform="rotate(180 641 0)">PKV/GXNN4/2023/China</text></g>
<g id="n10" transform="rotate(22.13)"><text class="f" x="641" transform="rotate(180 641 0)">PKV/GXNN5/2023/China</text></g>
<g id="n11" transform="rotate(24.343)"><text class="f" x="641" transform="rotate(180 641 0)">MF062452.1-CHGX-2013</text></g>
<g id="n12" transform="rotate(26.556)"><text class="f" x="641" transform="rotate(180 641 0)">MF062442.1-CHGX-2012</text></g>
<g id="n13" transform="rotate(28.769)"><text class="f" x="641" transform="rotate(180 641 0)">MF062446.1-CHGX-2013</text></g>
<g id="n14" transform="rotate(30.982)"><text class="f" x="641" transform="rotate(180 641 0)">OM274026.1-CHAH-2022</text></g>
<g id="n15" transform="rotate(33.195)"><text class="f" x="641" transform="rotate(180 641 0)">PKV/GXFCG3/2024/China</text></g>
<g id="n16" transform="rotate(35.408)"><text class="f" x="641" transform="rotate(180 641 0)">PKV/GXCZ1/2022/China</text></g>
<g id="n17" transform="rotate(37.621)"><text class="f" x="641" transform="rotate(180 641 0)">MF062435.1-CHGX-2012</text></g>
<g id="n18" transform="rotate(39.834)"><text class="f" x="641" transform="rotate(180 641 0)">OM274027.1-CHAH-2019</text></g>
<g id="n19" transform="rotate(42.047)"><text class="f" x="641" transform="rotate(180 641 0)">PKV/GXYL6/2024/China</text></g>
<g id="n20" transform="rotate(44.26)"><text class="f" x="641" transform="rotate(180 641 0)">PKV/GXFCG1/2024/China</text></g>
<g id="n21" transform="rotate(46.473)"><text class="f" x="641" transform="rotate(180 641 0)">PKV/GXFCG2/2024/China</text></g>
<g id="n22" transform="rotate(48.686)"><text class="f" x="641" transform="rotate(180 641 0)">PKV/GXGG4/2023/China</text></g>
<g id="n23" transform="rotate(50.899)"><text class="f" x="641" transform="rotate(180 641 0)">PKV/GXYL7/2024/China</text></g>
<g id="n24" transform="rotate(53.112)"><text class="f" x="641" transform="rotate(180 641 0)">MF062447.1-CHGX-2012</text></g>
<g id="n25" transform="rotate(55.325)"><text class="f" x="641" transform="rotate(180 641 0)">PKV/GXBS4/2023/China</text></g>
<g id="n26" transform="rotate(57.538)"><text class="f" x="641" transform="rotate(180 641 0)">MF062440.1-CHGX-2013</text></g>
<g id="n27" transform="rotate(59.751)"><text x="641">OQ129479.1-CHSD-2022</text></g>
<g id="n28" transform="rotate(61.964)"><text x="641">KY234499.1-CHJX-2015</text></g>
<g id="n29" transform="rotate(64.177)"><text x="641">MF062439.1-CHGX-2013</text></g>
<g id="n30" transform="rotate(66.39)"><text x="641">PKV/GXNN3/2022/China</text></g>
<g id="n31" transform="rotate(68.603)"><text x="641">PKV/GXGL3/2025/China</text></g>
<g id="n32" transform="rotate(70.816)"><text x="641">PKV/GXGL4/2025/China</text></g>
<g id="n33" transform="rotate(73.029)"><text x="641">MF062436.1-CHGX-2013</text></g>
<g id="n34" transform="rotate(75.242)"><text x="641">MF062443.1-CHGX-2014</text></g>
<g id="n35" transform="rotate(77.455)"><text x="641">MF062444.1-CHGX-2013</text></g>
<g id="n36" transform="rotate(79.668)"><text x="641">KC424639.1-CHJL-2012</text></g>
<g id="n37" transform="rotate(81.881)"><text x="641">KF539763.1-CHGS-2012</text></g>
<g id="n38" transform="rotate(84.094)"><text x="641">ON007233.1-CHXJ-2022</text></g>
<g id="n39" transform="rotate(86.307)"><text x="641">PKV/GXHZ3/2024/China</text></g>
<g id="n40" transform="rotate(88.52)"><text x="641">JX401523.1-CHGS-2012</text></g>
<g id="n41" transform="rotate(90.733)"><text x="641">MG800805.1-CHJS-2015</text></g>
<g id="n42" transform="rotate(92.946)"><text x="641">PKV/GXHC3/2023/China</text></g>
<g id="n43" transform="rotate(95.159)"><text x="641">PKV/GXLZ2/2023/China</text></g>
<g id="n44" transform="rotate(97.372)"><text x="641">PKV/GXLZ4/2024/China</text></g>
<g id="n45" transform="rotate(99.585)"><text x="641">JN630514.1-CHSH-2010</text></g>
<g id="n46" transform="rotate(101.798)"><text x="641">KM051987.1-CHJX-2014</text></g>
<g id="n47" transform="rotate(104.011)"><text x="641">PKV/GXCZ2/2022/China</text></g>
<g id="n48" transform="rotate(106.224)"><text x="641">PKV/GXLZ1/2023/China</text></g>
<g id="n49" transform="rotate(108.437)"><text x="641">PKV/GXCZ7/2024/China</text></g>
<g id="n50" transform="rotate(110.65)"><text x="641">PKV/GXLZ3/2023/China</text></g>
<g id="n51" transform="rotate(112.863)"><text x="641">PKV/GXCZ3/2024/China</text></g>
<g id="n52" transform="rotate(115.076)"><text x="641">PKV/GXCZ6/2024/China</text></g>
<g id="n53" transform="rotate(117.289)"><text x="641">KM977675.1-USA-2011</text></g>
<g id="n54" transform="rotate(119.502)"><text x="641">LC210614.1-JPN-2015</text></g>
<g id="n55" transform="rotate(121.715)"><text x="641">LC210615.1-JPN-2015</text></g>
<g id="n56" transform="rotate(123.928)"><text x="641">PKV/GXYL1/2021/China</text></g>
<g id="n57" transform="rotate(126.141)"><text x="641">PKV/GXYL2/2021/China</text></g>
<g id="n58" transform="rotate(128.354)"><text x="641">PKV/GXNN1/2021/China</text></g>
<g id="n59" transform="rotate(130.567)"><text x="641">PKV/GXGL1/2022/China</text></g>
<g id="n60" transform="rotate(132.78)"><text x="641">PKV/GXGL2/2022/China</text></g>
<g id="n61" transform="rotate(134.993)"><text x="641">KJ452348.1-CHHLJ-2012</text></g>
<g id="n62" transform="rotate(137.206)"><text x="641">MT125682.1-CHHLJ-2013</text></g>
<g id="n63" transform="rotate(139.419)"><text x="641">MT125684.1-CHHLJ-2013</text></g>
<g id="n64" transform="rotate(141.632)"><text x="641">PKV/GXBS6/2024/China</text></g>
<g id="n65" transform="rotate(143.845)"><text x="641">PKV/GXYL3/2022/China</text></g>
<g id="n66" transform="rotate(146.058)"><text x="641">PKV/GXYL4/2022/China</text></g>
<g id="n67" transform="rotate(148.271)"><text x="641">PKV/GXBH2/2025/China</text></g>
<g id="n68" transform="rotate(150.484)"><text x="641">PKV/GXLZ9/2024/China</text></g>
<g id="n69" transform="rotate(152.697)"><text x="641">PKV/GXBS5/2023/China</text></g>
<g id="n70" transform="rotate(154.91)"><text x="641">PKV/GXGG2/2021/China</text></g>
<g id="n71" transform="rotate(157.123)"><text x="641">PKV/GXGG3/2023/China</text></g>
<g id="n72" transform="rotate(159.336)"><text x="641">PKV/GXQZ1/2021/China</text></g>
<g id="n73" transform="rotate(161.549)"><text x="641">PKV/GXQZ2/2021/China</text></g>
<g id="n74" transform="rotate(163.762)"><text x="641">KC414936.1-CHJL-2012</text></g>
<g id="n75" transform="rotate(165.975)"><text x="641">KC424640.1-CHJL-2012</text></g>
<g id="n76" transform="rotate(168.188)"><text x="641">LC210617.1-JPN-2015</text></g>
<g id="n77" transform="rotate(170.401)"><text x="641">LC210616.1-JPN-2015</text></g>
<g id="n78" transform="rotate(172.614)"><text x="641">LC210621.1-JPN-2014</text></g>
<g id="n79" transform="rotate(174.827)"><text x="641">LC210612.1-JPN-2015</text></g>
<g id="n80" transform="rotate(177.04)"><text x="641">LC210613.1-JPN-2016</text></g>
<g id="n81" transform="rotate(179.253)"><text x="641">MF506730.1-USA-2011</text></g>
<g id="n82" transform="rotate(181.466)"><text x="641">MT211964.1-MEX-2018</text></g>
<g id="n83" transform="rotate(183.679)"><text x="641">MT125685.1-CHHLJ-2018</text></g>
<g id="n84" transform="rotate(185.892)"><text x="641">LC210611.1-JPN-2014</text></g>
<g id="n85" transform="rotate(188.105)"><text x="641">LC210618.1-JPN-2015</text></g>
<g id="n86" transform="rotate(190.318)"><text x="641">LC210606.1-JPN-2014</text></g>
<g id="n87" transform="rotate(192.531)"><text x="641">LC210605.1-JPN-2014</text></g>
<g id="n88" transform="rotate(194.744)"><text x="641">LC210607.1-JPN-2014</text></g>
<g id="n89" transform="rotate(196.957)"><text x="641">MN807751.1-HUN-2013</text></g>
<g id="n90" transform="rotate(199.17)"><text x="641">PKV/GXWZ2/2023/China</text></g>
<g id="n91" transform="rotate(201.383)"><text x="641">MF062450.1-CHGX-2012</text></g>
<g id="n92" transform="rotate(203.596)"><text x="641">MF062451.1-CHGX-2012</text></g>
<g id="n93" transform="rotate(205.809)"><text x="641">LT898428.1-GER-2014</text></g>
<g id="n94" transform="rotate(208.022)"><text x="641">PKV/GXHZ2/2022/China</text></g>
<g id="n95" transform="rotate(210.235)"><text x="641">MF062445.1-CHGX-2012</text></g>
<g id="n96" transform="rotate(212.448)"><text x="641">EU787450.2-HUN-2007</text></g>
<g id="n97" transform="rotate(214.661)"><text x="641">GQ249161.1-HUN-2008</text></g>
<g id="n98" transform="rotate(216.874)"><text x="641">LC210608.1-JPN-2014</text></g>
<g id="n99" transform="rotate(219.087)"><text x="641">LC210604.1-JPN-2014</text></g>
<g id="n100" transform="rotate(221.3)"><text x="641">LC210610.1-JPN-2014</text></g>
<g id="n101" transform="rotate(223.513)"><text x="641">KC424638.1-CHJL-2012</text></g>
<g id="n102" transform="rotate(225.726)"><text x="641">LC210600.1-JPN-2014</text></g>
<g id="n103" transform="rotate(227.939)"><text x="641">LC210601.1-JPN-2014</text></g>
<g id="n104" transform="rotate(230.152)"><text x="641">LC210602.1-JPN-2014</text></g>
<g id="n105" transform="rotate(232.365)"><text x="641">LC210603.1-JPN-2014</text></g>
<g id="n106" transform="rotate(234.578)"><text x="641">OK315318.1-CHHB-2020</text></g>
<g id="n107" transform="rotate(236.791)"><text x="641">PKV/GXCZ5/2024/China</text></g>
<g id="n108" transform="rotate(239.004)"><text x="641">MF062449.1-CHGX-2012</text></g>
<g id="n109" transform="rotate(241.217)"><text class="f" x="641" transform="rotate(180 641 0)">OM274028.1-CHAH-2020</text></g>
<g id="n110" transform="rotate(243.43)"><text class="f" x="641" transform="rotate(180 641 0)">PKV/GXGG5/2024/China</text></g>
<g id="n111" transform="rotate(245.643)"><text class="f" x="641" transform="rotate(180 641 0)">PKV/GXGG6/2024/China</text></g>
<g id="n112" transform="rotate(247.856)"><text class="f" x="641" transform="rotate(180 641 0)">JQ692069.1-CHHB-2011</text></g>
<g id="n113" transform="rotate(250.069)"><text class="f" x="641" transform="rotate(180 641 0)">MG800806.1-CHJS-2015</text></g>
<g id="n114" transform="rotate(252.282)"><text class="f" x="641" transform="rotate(180 641 0)">MG800807.1-CHJS-2015</text></g>
<g id="n115" transform="rotate(254.495)"><text class="f" x="641" transform="rotate(180 641 0)">MG800803.1-CHJS-2015</text></g>
<g id="n116" transform="rotate(256.708)"><text class="f" x="641" transform="rotate(180 641 0)">MG800804.1-CHJS-2015</text></g>
<g id="n117" transform="rotate(258.921)"><text class="f" x="641" transform="rotate(180 641 0)">PKV/GXGG1/2021/China</text></g>
<g id="n118" transform="rotate(261.134)"><text class="f" x="641" transform="rotate(180 641 0)">PKV/GXLZ8/2024/China</text></g>
<g id="n119" transform="rotate(263.347)"><text class="f" x="641" transform="rotate(180 641 0)">PKV/GXHZ1/2022/China</text></g>
<g id="n120" transform="rotate(265.56)"><text class="f" x="641" transform="rotate(180 641 0)">PKV/GXNN6/2024/China</text></g>
<g id="n121" transform="rotate(267.773)"><text class="f" x="641" transform="rotate(180 641 0)">MK962327.1-ESP-2017</text></g>
<g id="n122" transform="rotate(269.986)"><text class="f" x="641" transform="rotate(180 641 0)">MZ334483.1-GER-2018</text></g>
<g id="n123" transform="rotate(272.199)"><text class="f" x="641" transform="rotate(180 641 0)">OQ595081.1-HR-2017</text></g>
<g id="n124" transform="rotate(274.412)"><text class="f" x="641" transform="rotate(180 641 0)">MK962329.1-ESP-2017</text></g>
<g id="n125" transform="rotate(276.625)"><text class="f" x="641" transform="rotate(180 641 0)">MK962328.1-ESP-2017</text></g>
<g id="n126" transform="rotate(278.838)"><text class="f" x="641" transform="rotate(180 641 0)">MK962322.1-ESP-2017</text></g>
<g id="n127" transform="rotate(281.051)"><text class="f" x="641" transform="rotate(180 641 0)">MK962325.1-ESP-2017</text></g>
<g id="n128" transform="rotate(283.264)"><text class="f" x="641" transform="rotate(180 641 0)">MK962323.1-ESP-2017</text></g>
<g id="n129" transform="rotate(285.477)"><text class="f" x="641" transform="rotate(180 641 0)">ON792977.1-ESP-2017</text></g>
<g id="n130" transform="rotate(287.69)"><text class="f" x="641" transform="rotate(180 641 0)">MK962333.1-ESP-2017</text></g>
<g id="n131" transform="rotate(289.903)"><text class="f" x="641" transform="rotate(180 641 0)">MK962330.1-ESP-2017</text></g>
<g id="n132" transform="rotate(292.116)"><text class="f" x="641" transform="rotate(180 641 0)">MK962335.1-ESP-2017</text></g>
<g id="n133" transform="rotate(294.329)"><text class="f" x="641" transform="rotate(180 641 0)">ON792976.1-ESP-2017</text></g>
<g id="n134" transform="rotate(296.542)"><text class="f" x="641" transform="rotate(180 641 0)">JX177612.1-HUN-2011</text></g>
<g id="n135" transform="rotate(298.755)"><text class="f" x="641" transform="rotate(180 641 0)">MK962324.1-ESP-2017</text></g>
<g id="n136" transform="rotate(300.968)"><text class="f" x="641" transform="rotate(180 641 0)">MK962326.1-ESP-2017</text></g>
<g id="n137" transform="rotate(303.181)"><text class="f" x="641" transform="rotate(180 641 0)">MK962332.1-ESP-2017</text></g>
<g id="n138" transform="rotate(305.394)"><text class="f" x="641" transform="rotate(180 641 0)">MK962334.1-ESP-2017</text></g>
<g id="n139" transform="rotate(307.607)"><text class="f" x="641" transform="rotate(180 641 0)">ON792975.1-ESP-2017</text></g>
<g id="n140" transform="rotate(309.82)"><text class="f" x="641" transform="rotate(180 641 0)">KY234500.1-CHGD-2015</text></g>
<g id="n141" transform="rotate(312.033)"><text class="f" x="641" transform="rotate(180 641 0)">PKV/GXBS3/2023/China</text></g>
<g id="n142" transform="rotate(314.246)"><text class="f" x="641" transform="rotate(180 641 0)">PKV/GXHC1/2021/China</text></g>
<g id="n143" transform="rotate(316.459)"><text class="f" x="641" transform="rotate(180 641 0)">PKV/GXHC2/2021/China</text></g>
<g id="n144" transform="rotate(318.672)"><text class="f" x="641" transform="rotate(180 641 0)">PKV/GXBS2/2022/China</text></g>
<g id="n145" transform="rotate(320.885)"><text class="f" x="641" transform="rotate(180 641 0)">PKV/GXLB2/2024/China</text></g>
<g id="n146" transform="rotate(323.098)"><text class="f" x="641" transform="rotate(180 641 0)">PKV/GXLZ5/2024/China</text></g>
<g id="n147" transform="rotate(325.311)"><text class="f" x="641" transform="rotate(180 641 0)">PKV/GXNN2/2021/China</text></g>
<g id="n148" transform="rotate(327.524)"><text class="f" x="641" transform="rotate(180 641 0)">LC210609.1-JPN-2014</text></g>
<g id="n149" transform="rotate(329.737)"><text class="f" x="641" transform="rotate(180 641 0)">GU292559.1-CHBJ-2010</text></g>
<g id="n150" transform="rotate(331.95)"><text class="f" x="641" transform="rotate(180 641 0)">MK962331.1-ESP-2017</text></g>
<g id="n151" transform="rotate(334.163)"><text class="f" x="641" transform="rotate(180 641 0)">OM105002.1-ZAF-2021</text></g>
<g id="n152" transform="rotate(336.376)"><text class="f" x="641" transform="rotate(180 641 0)">PKV/GXCZ4/2024/China</text></g>
<g id="n153" transform="rotate(338.589)"><text class="f" x="641" transform="rotate(180 641 0)">PKV/GXLZ6/2024/China</text></g>
<g id="n154" transform="rotate(340.802)"><text class="f" x="641" transform="rotate(180 641 0)">PKV/GXWZ1/2023/China</text></g>
<g id="n155" transform="rotate(343.015)"><text class="f" x="641" transform="rotate(180 641 0)">PKV/GXBS1/2021/China</text></g>
<g id="n156" transform="rotate(345.228)"><text class="f" x="641" transform="rotate(180 641 0)">PKV/GXLB1/2022/China</text></g>
<g id="n157" transform="rotate(347.441)"><text class="f" x="641" transform="rotate(180 641 0)">PKV/GXBH1/2025/China</text></g>
<g id="n158" transform="rotate(349.654)"><text class="f" x="641" transform="rotate(180 641 0)">PKV/GXLZ7/2024/China</text></g>
</g>
</g>
</svg>
